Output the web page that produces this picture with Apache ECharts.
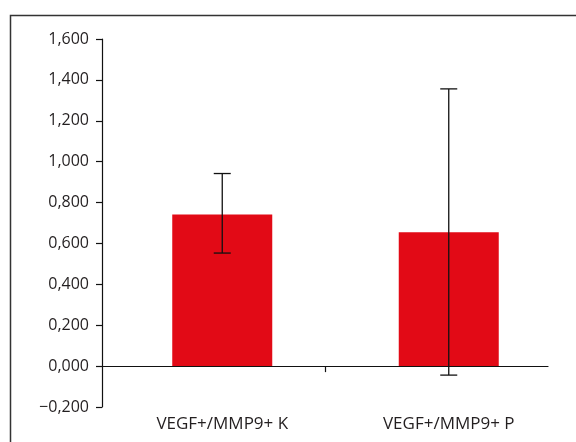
<!DOCTYPE html>
<html>
<head>
<meta charset="utf-8">
<script src="https://cdn.jsdelivr.net/npm/echarts@6/dist/echarts.min.js"></script>
<style>html,body{margin:0;padding:0;background:#fff;}#c{width:576px;height:442px;}</style>
</head>
<body>
<div id="c"></div>
<script>
var categories = ['VEGF+/MMP9+ K', 'VEGF+/MMP9+ P'];
var means = [0.742, 0.655];
var errLow = [0.553, -0.044];
var errHigh = [0.942, 1.356];
var yMin = -0.2, yMax = 1.6, yStep = 0.2;

var chart = echarts.init(document.getElementById('c'), null, {renderer: 'canvas'});
var textColor = '#231f20';
var fontFam = '"Open Sans", "Noto Sans", sans-serif';

var errData = categories.map(function (c, i) { return [i, errLow[i], errHigh[i]]; });

chart.setOption({
  animation: false,
  backgroundColor: '#fff',
  graphic: [{
    type: 'rect', silent: true,
    shape: {x: 10.5, y: 15.5, width: 800, height: 800},
    style: {fill: 'none', stroke: '#333', lineWidth: 1.5}
  }],
  grid: [
    {left: 102, right: 28, top: 39, bottom: 35},
    {left: 109, right: 14, top: 39, bottom: 35}
  ],
  xAxis: [
    {
      gridIndex: 0, type: 'value', min: 0, max: 2,
      axisLine: {show: true, onZero: true, lineStyle: {color: '#111', width: 1.2}},
      axisTick: {show: true, customValues: [1], length: 6, lineStyle: {color: '#111', width: 1.2}},
      axisLabel: {show: false},
      splitLine: {show: false}
    },
    {
      gridIndex: 1, type: 'category', data: categories,
      axisLine: {show: false, onZero: false},
      axisTick: {show: false},
      axisLabel: {margin: 9, color: textColor, fontSize: 17, fontFamily: fontFam},
      splitLine: {show: false}
    }
  ],
  yAxis: [
    {
      gridIndex: 0, type: 'value', min: yMin, max: yMax, interval: yStep,
      axisLine: {show: true, lineStyle: {color: '#111', width: 1.2}},
      axisTick: {show: true, length: 6, lineStyle: {color: '#111', width: 1.2}},
      axisLabel: {
        margin: 13, color: textColor, fontSize: 16, fontFamily: fontFam,
        formatter: function (v) {
          var s = Math.abs(v).toFixed(3).replace('.', ',');
          return (v < -1e-9 ? '\u2212' : '') + s;
        }
      },
      splitLine: {show: false}
    },
    {
      gridIndex: 1, type: 'value', min: yMin, max: yMax, interval: yStep, show: false,
      splitLine: {show: false}
    }
  ],
  series: [
    {
      type: 'bar', xAxisIndex: 1, yAxisIndex: 1,
      data: means, barWidth: 100,
      itemStyle: {color: '#e20a16'}, z: 2
    },
    {
      type: 'custom', xAxisIndex: 1, yAxisIndex: 1, z: 5,
      data: errData,
      renderItem: function (params, api) {
        var x = api.value(0);
        var lo = api.coord([x, api.value(1)]);
        var hi = api.coord([x, api.value(2)]);
        var cw = 8.5;
        var st = {stroke: '#111', lineWidth: 1.3};
        return {
          type: 'group',
          children: [
            {type: 'line', shape: {x1: lo[0], y1: lo[1], x2: hi[0], y2: hi[1]}, style: st},
            {type: 'line', shape: {x1: lo[0] - cw, y1: lo[1], x2: lo[0] + cw, y2: lo[1]}, style: st},
            {type: 'line', shape: {x1: hi[0] - cw, y1: hi[1], x2: hi[0] + cw, y2: hi[1]}, style: st}
          ]
        };
      }
    }
  ]
});
</script>
</body>
</html>
